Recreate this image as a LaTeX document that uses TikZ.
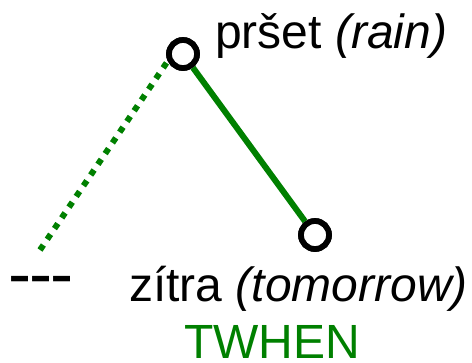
\documentclass[tikz,border=0pt]{standalone}
\usepackage{fontspec}
\setmainfont{Liberation Sans}
\newfontfamily\dashfont[LetterSpace=-3]{Liberation Sans}
\usepackage{xcolor}
\usetikzlibrary{positioning,calc}
\definecolor{treegreen}{RGB}{0,128,0}

\begin{document}
\begin{tikzpicture}[
    x=0.75pt, y=-0.75pt,
    word/.style={
        anchor=base west,
        inner sep=0pt,
        font=\fontsize{36}{40}\selectfont
    },
    token/.style={
        draw,
        circle,
        fill=white,
        line width=4.3pt,
        minimum size=21pt,
        inner sep=0pt
    },
    edge/.style={treegreen, line width=4.5pt},
    rootedge/.style={treegreen, line width=4.5pt, dash pattern=on 4.5pt off 5.2pt}
]
\useasboundingbox (0,0) rectangle (472,362);

% ---- Root ----
\node[anchor=base west, inner sep=0pt, font=\dashfont\fontsize{52}{56}\selectfont] (root) at (8,297) {---};
\coordinate (roottop) at (40,250);

% ---- Tokens ----
\node[token] (rain) at (183,54) {};
\node[token] (tomorrow) at (315,235) {};

% ---- Labels ----
\node[word] (rainlabel) at (215,48) {pršet \textit{(rain)}};
\node[word] (tomorrowlabel) at (129,301) {zítra \textit{(tomorrow)}};
\node[word, text=treegreen] (twhen) at (184,358) {TWHEN};

% ---- Connections ----
\draw[rootedge] (roottop) -- (rain.205);
\draw[edge] (rain) -- (tomorrow);
\node[token] at (rain) {};
\node[token] at (tomorrow) {};

\end{tikzpicture}
\end{document}
